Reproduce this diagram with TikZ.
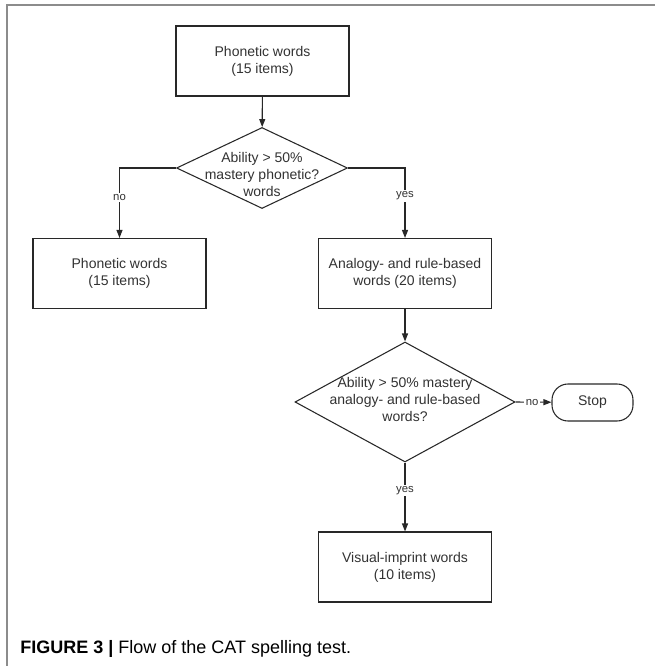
\documentclass[tikz,border=0pt]{standalone}
\usepackage{fontspec}
\setmainfont{Liberation Sans}
\usetikzlibrary{shapes.geometric,arrows.meta}
\definecolor{LineCol} {RGB}{40,40,40}
\definecolor{TextCol} {RGB}{50,50,50}
\definecolor{FrameCol}{RGB}{140,140,140}
\tikzset{
  nd_box/.style={rectangle,draw=LineCol,line width=0.8pt,minimum width=129.75pt,minimum height=52.5pt,align=center,text=TextCol,font=\fontsize{10.5}{12.75}\selectfont},
  nd_dec/.style={diamond,draw=LineCol,line width=0.8pt,inner sep=0pt},
  nd_txt/.style={align=center,text=TextCol,font=\fontsize{10.5}{12.75}\selectfont},
  nd_stop/.style={rectangle,rounded corners=12pt,draw=LineCol,line width=0.8pt,minimum width=60.75pt,minimum height=27.75pt,text=TextCol,font=\fontsize{10.5}{12.75}\selectfont},
  lbl/.style={fill=white,inner sep=1pt,text=TextCol,font=\fontsize{8.5}{10}\selectfont},
  arr/.style={-{Triangle[length=6pt,width=4.5pt]},draw=LineCol,line width=0.8pt},
}

\begin{document}
\begin{tikzpicture}[x=0.75pt,y=-0.75pt]
\useasboundingbox (0,0) rectangle (655,666);
% frame
\draw[FrameCol,line width=1.5pt](655,5)--(7,5)--(7,666);
% phonetic stage
\node[nd_box] at (262.5,61)(P1){Phonetic words\\(15 items)};
\node[nd_dec,minimum width=128.25pt,minimum height=60.75pt,
      label={[nd_txt,yshift=-4.5pt]center:Ability > 50\%\\mastery phonetic?\\words}] at (262,168)(D1){};
\node[nd_box] at (119.5,273.5)(P2){Phonetic words\\(15 items)};
\node[nd_box] at (405,273.5)(AR){Analogy- and rule-based\\words (20 items)};
% analogy stage
\node[nd_dec,minimum width=165pt,minimum height=90pt,
      label={[nd_txt,yshift=2pt]center:Ability > 50\% mastery\\analogy- and rule-based\\words?}] at (405,402)(D2){};
\node[nd_stop] at (592.5,402.5)(ST){Stop};
\node[nd_box] at (405,567)(VI){Visual-imprint words\\(10 items)};
% caption
\node[anchor=base west,inner sep=0pt,font=\fontsize{13.5}{16}\selectfont] at (20,653)(CAP){\textbf{FIGURE 3 |} Flow of the CAT spelling test.};
% arrows
\draw[arr](P1)--(D1);
\draw[arr](D1.west)-|node[lbl,pos=0.71](L1){no}(P2);
\draw[arr](D1.east)-|node[lbl,pos=0.70](L2){yes}(AR);
\draw[arr](AR)--(D2);
\draw[arr](D2.east)--node[lbl,pos=0.46](L3){no}(ST);
\draw[arr](D2)--node[lbl,pos=0.41](L4){yes}(VI);
\end{tikzpicture}
\end{document}
